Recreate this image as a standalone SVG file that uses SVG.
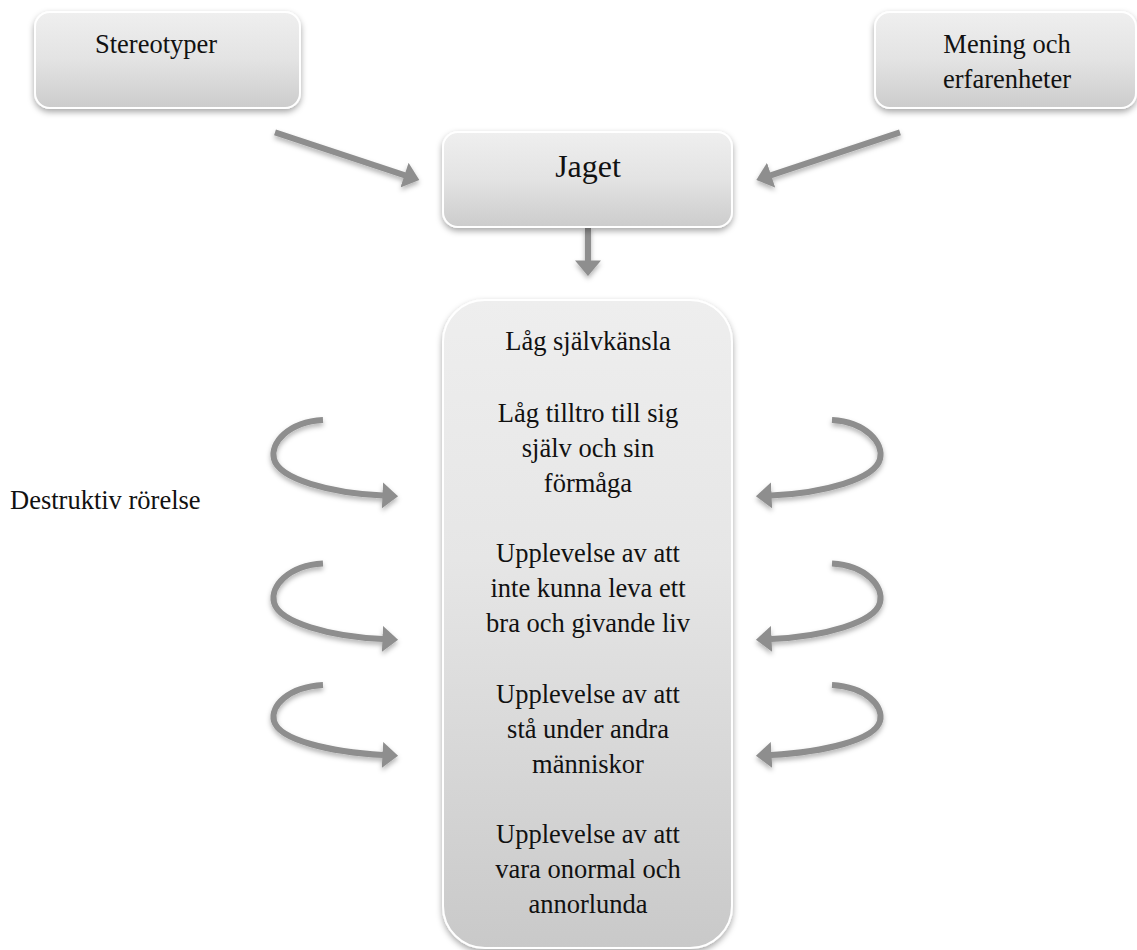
<svg xmlns="http://www.w3.org/2000/svg" width="1137" height="950" viewBox="0 0 1137 950">
<style>
  .box { stroke: #ffffff; stroke-width: 2; filter: url(#shadow); }
  text { font-family: 'Liberation Serif', 'Times New Roman', Times, serif; font-size: 26.5px; fill: #111111; }
  .c { text-anchor: middle; }
  .arr { fill: none; stroke: #8e8e8e; stroke-width: 6; marker-end: url(#head); filter: url(#ashadow); }
</style>
<defs>
  <linearGradient id="g1" x1="0" y1="0" x2="0" y2="1">
    <stop offset="0" stop-color="#efefef"/>
    <stop offset="0.5" stop-color="#e3e3e3"/>
    <stop offset="1" stop-color="#cccccc"/>
  </linearGradient>
  <linearGradient id="g2" x1="0" y1="0" x2="0" y2="1">
    <stop offset="0" stop-color="#eeeeee"/>
    <stop offset="0.4" stop-color="#e6e6e6"/>
    <stop offset="1" stop-color="#c9c9c9"/>
  </linearGradient>
  <filter id="shadow" x="-10%" y="-10%" width="120%" height="130%">
    <feDropShadow dx="0" dy="3" stdDeviation="3" flood-color="#000" flood-opacity="0.35"/>
  </filter>
  <filter id="ashadow" filterUnits="userSpaceOnUse" x="0" y="0" width="1137" height="950">
    <feDropShadow dx="0" dy="3" stdDeviation="2.5" flood-color="#000" flood-opacity="0.3"/>
  </filter>
  <marker id="head" markerUnits="userSpaceOnUse" markerWidth="16" markerHeight="26" viewBox="0 0 15 25" refX="0.5" refY="12.5" orient="auto">
    <path d="M0,0 L15,12.5 L0,25 z" fill="#8e8e8e"/>
  </marker>
</defs>

<g id="connectors">
  <path class="arr" d="M275,132.3 L405,175.3"/>
  <path class="arr" d="M900,132.3 L770.6,175.3"/>
  <path class="arr" d="M588,227 L588,261"/>
  <path class="arr" d="M323,420 C288,422 270,443 274,459 C279,479 330,493 383,495.5"/>
  <path class="arr" d="M323,563.5 C288,565.5 270,586.5 274,602.5 C279,622.5 330,636.5 383,639"/>
  <path class="arr" d="M323,685 C288,687 270,706 274,721 C279,740 330,752 383,755"/>
  <path class="arr" d="M832,420 C866,422 884,443 880,459 C875,479 824,493 771,495.5"/>
  <path class="arr" d="M832,563.5 C866,565.5 884,586.5 880,602.5 C875,622.5 824,636.5 771,639"/>
  <path class="arr" d="M832,685 C866,687 884,706 880,721 C875,740 824,752 771,755"/>
</g>

<g id="stereotyper">
  <rect class="box" x="35" y="12" width="265" height="96" rx="15" fill="url(#g1)"/>
  <text x="95" y="53" font-family="Liberation Serif, serif">Stereotyper</text>
</g>

<g id="mening">
  <rect class="box" x="875" y="12" width="261" height="96" rx="15" fill="url(#g1)"/>
  <text class="c" x="1007" y="53">Mening och</text>
  <text class="c" x="1007" y="88">erfarenheter</text>
</g>

<g id="jaget">
  <rect class="box" x="443" y="132" width="289" height="95" rx="15" fill="url(#g1)"/>
  <text class="c" x="588" y="177" style="font-size:32px">Jaget</text>
</g>

<g id="sjalvbild">
  <rect class="box" x="443" y="300" width="289" height="648" rx="42" fill="url(#g2)"/>
  <text class="c" x="588" y="350">Låg självkänsla</text>
  <text class="c" x="588" y="421.7">Låg tilltro till sig</text>
  <text class="c" x="588" y="456.5">själv och sin</text>
  <text class="c" x="588" y="491.5">förmåga</text>
  <text class="c" x="588" y="561.7">Upplevelse av att</text>
  <text class="c" x="588" y="596.7">inte kunna leva ett</text>
  <text class="c" x="588" y="631.7">bra och givande liv</text>
  <text class="c" x="588" y="703.3">Upplevelse av att</text>
  <text class="c" x="588" y="738.3">stå under andra</text>
  <text class="c" x="588" y="773.3">människor</text>
  <text class="c" x="588" y="843">Upplevelse av att</text>
  <text class="c" x="588" y="878">vara onormal och</text>
  <text class="c" x="588" y="913">annorlunda</text>
</g>

<g id="destruktiv">
  <text x="10" y="509">Destruktiv rörelse</text>
</g>
</svg>
